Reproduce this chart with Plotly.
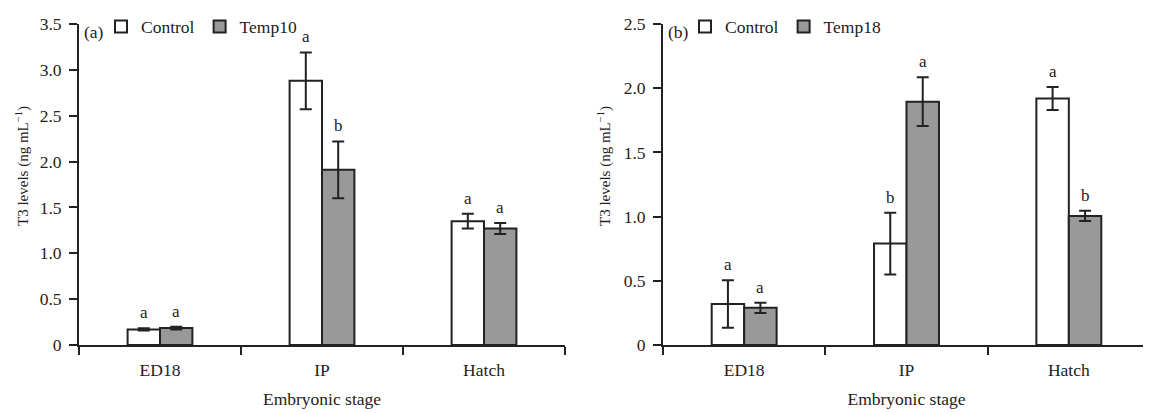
import plotly.graph_objects as go
from plotly.subplots import make_subplots

stages = ["ED18", "IP", "Hatch"]

# Panel (a)
a_control = [0.17, 2.88, 1.35]
a_control_err = [0.012, 0.31, 0.08]
a_temp = [0.185, 1.91, 1.27]
a_temp_err = [0.015, 0.31, 0.06]
a_control_letters = ["a", "a", "a"]
a_temp_letters = ["a", "b", "a"]

# Panel (b)
b_control = [0.32, 0.79, 1.92]
b_control_err = [0.185, 0.24, 0.09]
b_temp = [0.29, 1.895, 1.005]
b_temp_err = [0.04, 0.19, 0.04]
b_control_letters = ["a", "b", "a"]
b_temp_letters = ["a", "a", "b"]

a_yticks = [0, 0.5, 1.0, 1.5, 2.0, 2.5, 3.0, 3.5]
a_yticklabels = ["0", "0.5", "1.0", "1.5", "2.0", "2.5", "3.0", "3.5"]
b_yticks = [0, 0.5, 1.0, 1.5, 2.0, 2.5]
b_yticklabels = ["0", "0.5", "1.0", "1.5", "2.0", "2.5"]

FONT = "Liberation Serif"
INK = "#222222"
GRAY = "#999999"
# page body has an 8px default margin
OFF = 8
W, H = 1151 - OFF, 413 - OFF
ML, MR, MT, MB = 79 - OFF, 1, 15 - OFF, 68
plot_w = W - ML - MR
plot_h = H - MT - MB
def px_x(xp):  # reference page x -> paper coordinate
    return (xp - 79) / plot_w
def px_y(yp):  # reference page y -> paper coordinate
    return (345 - yp) / plot_h

dom1 = [0, px_x(565)]
dom2 = [px_x(663), 1]

fig = make_subplots(rows=1, cols=2)

def add_panel(col, ctrl, ctrl_err, temp, temp_err, temp_name, legend):
    fig.add_trace(go.Bar(
        x=stages, y=ctrl, name="Control", legend=legend,
        marker=dict(color="white", line=dict(color=INK, width=2)),
        error_y=dict(type="data", array=ctrl_err, color=INK, thickness=2, width=6),
    ), row=1, col=col)
    fig.add_trace(go.Bar(
        x=stages, y=temp, name=temp_name, legend=legend,
        marker=dict(color=GRAY, line=dict(color=INK, width=2)),
        error_y=dict(type="data", array=temp_err, color=INK, thickness=2, width=6),
    ), row=1, col=col)

add_panel(1, a_control, a_control_err, a_temp, a_temp_err, "Temp10", "legend")
add_panel(2, b_control, b_control_err, b_temp, b_temp_err, "Temp18", "legend2")

shift = 0.1 * (565 - 79) / 3  # bar offset in pixels

annotations = []
def add_letters(xref, yref, vals, errs, letters, sgn):
    for s, v, e, t in zip(stages, vals, errs, letters):
        annotations.append(dict(
            x=s, y=v + e, xref=xref, yref=yref, text=t, showarrow=False,
            xanchor="center", yanchor="bottom", xshift=sgn * shift, yshift=4,
            font=dict(family=FONT, size=17, color=INK)))

add_letters("x", "y", a_control, a_control_err, a_control_letters, -1)
add_letters("x", "y", a_temp, a_temp_err, a_temp_letters, 1)
add_letters("x2", "y2", b_control, b_control_err, b_control_letters, -1)
add_letters("x2", "y2", b_temp, b_temp_err, b_temp_letters, 1)

ytitle = "T3 levels (ng mL<sup>\u22121</sup>)"
for xpix in (22, 604):
    annotations.append(dict(
        x=px_x(xpix), y=px_y(161), xref="paper", yref="paper",
        text=ytitle, textangle=-90, showarrow=False, xanchor="center", yanchor="middle",
        font=dict(family=FONT, size=15, color=INK)))

# panel tags
for tag, xpix in (("(a)", 82), ("(b)", 666)):
    annotations.append(dict(
        x=px_x(xpix), y=px_y(23), xref="paper", yref="paper", text=tag,
        showarrow=False, xanchor="left", yanchor="middle",
        font=dict(family=FONT, size=17.5, color=INK)))

axis_common = dict(
    showline=True, linecolor=INK, linewidth=2, ticks="outside", ticklen=8,
    tickwidth=2, tickcolor=INK, showgrid=False, zeroline=False,
    tickfont=dict(family=FONT, size=17.5, color=INK))

fig.update_xaxes(**axis_common, tickson="boundaries", ticklabelstandoff=8,
                 title=dict(text="Embryonic stage", standoff=14,
                            font=dict(family=FONT, size=17.5, color=INK)))
fig.update_xaxes(domain=dom1, row=1, col=1)
fig.update_xaxes(domain=dom2, row=1, col=2)
fig.update_yaxes(**axis_common, ticklabelstandoff=4)
fig.update_yaxes(range=[0, 3.5], tickvals=a_yticks, ticktext=a_yticklabels, row=1, col=1)
fig.update_yaxes(range=[0, 2.5], tickvals=b_yticks, ticktext=b_yticklabels, row=1, col=2)

legend_common = dict(
    orientation="h", xanchor="left", yanchor="top", y=1.048,
    bgcolor="rgba(0,0,0,0)", borderwidth=0, itemwidth=30, tracegroupgap=0,
    font=dict(family=FONT, size=17.5, color=INK),
    itemclick=False, itemdoubleclick=False)

fig.update_layout(
    width=W, height=H,
    margin=dict(l=ML, r=MR, t=MT, b=MB),
    barmode="group", bargap=0.6, bargroupgap=0,
    plot_bgcolor="white", paper_bgcolor="white",
    font=dict(family=FONT, size=17, color=INK),
    legend=dict(**legend_common, x=px_x(101)),
    legend2=dict(**legend_common, x=px_x(685)),
    annotations=annotations,
)

fig.write_html("out.html")
